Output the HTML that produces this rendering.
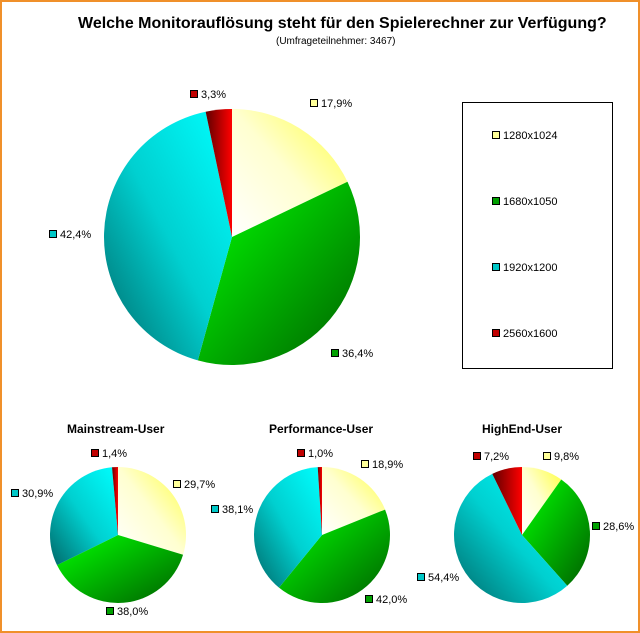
<!DOCTYPE html>
<html><head><meta charset="utf-8"><style>
body{margin:0;background:#fff;}
#c{position:relative;width:636px;height:629px;border:2px solid #f0902a;background:#fff;overflow:hidden;font-family:"Liberation Sans",sans-serif;}
.t{position:absolute;white-space:nowrap;color:#000;}
.l{position:absolute;font-size:11px;white-space:nowrap;}
.l i{display:inline-block;width:6px;height:6px;border:1px solid #000;margin-right:3px;vertical-align:0px;}
</style></head><body><div id="c">
<svg id="s" width="636" height="629" style="position:absolute;left:0;top:0"></svg>
<div class="t" style="left:76px;top:13px;font-size:16px;font-weight:bold;">Welche Monitorauflösung steht für den Spielerechner zur Verfügung?</div>
<div class="t" style="left:274px;top:34px;font-size:10px;">(Umfrageteilnehmer: 3467)</div>
<div style="position:absolute;left:460px;top:100px;width:149px;height:265px;border:1px solid #000"></div>
<div class="l" style="left:490px;top:128px"><i style="background:#ffff99"></i>1280x1024</div>
<div class="l" style="left:490px;top:194px"><i style="background:#00a000"></i>1680x1050</div>
<div class="l" style="left:490px;top:260px"><i style="background:#00c8c8"></i>1920x1200</div>
<div class="l" style="left:490px;top:326px"><i style="background:#c00000"></i>2560x1600</div>
<div class="l" style="left:188px;top:87px"><i style="background:#c00000"></i>3,3%</div>
<div class="l" style="left:308px;top:96px"><i style="background:#ffff99"></i>17,9%</div>
<div class="l" style="left:47px;top:227px"><i style="background:#00c8c8"></i>42,4%</div>
<div class="l" style="left:329px;top:346px"><i style="background:#00a000"></i>36,4%</div>
<div class="t" style="left:65px;top:420px;font-size:12px;font-weight:bold;">Mainstream-User</div>
<div class="t" style="left:267px;top:420px;font-size:12px;font-weight:bold;">Performance-User</div>
<div class="t" style="left:480px;top:420px;font-size:12px;font-weight:bold;">HighEnd-User</div>
<div class="l" style="left:89px;top:446px"><i style="background:#c00000"></i>1,4%</div>
<div class="l" style="left:171px;top:477px"><i style="background:#ffff99"></i>29,7%</div>
<div class="l" style="left:9px;top:486px"><i style="background:#00c8c8"></i>30,9%</div>
<div class="l" style="left:104px;top:604px"><i style="background:#00a000"></i>38,0%</div>
<div class="l" style="left:295px;top:446px"><i style="background:#c00000"></i>1,0%</div>
<div class="l" style="left:359px;top:457px"><i style="background:#ffff99"></i>18,9%</div>
<div class="l" style="left:209px;top:502px"><i style="background:#00c8c8"></i>38,1%</div>
<div class="l" style="left:363px;top:592px"><i style="background:#00a000"></i>42,0%</div>
<div class="l" style="left:471px;top:449px"><i style="background:#c00000"></i>7,2%</div>
<div class="l" style="left:541px;top:449px"><i style="background:#ffff99"></i>9,8%</div>
<div class="l" style="left:590px;top:519px"><i style="background:#00a000"></i>28,6%</div>
<div class="l" style="left:415px;top:570px"><i style="background:#00c8c8"></i>54,4%</div>
</div>
<script>
var s=document.getElementById('s'),NS='http://www.w3.org/2000/svg';
s.innerHTML='<defs>'+
'<linearGradient id="gy" x1="0" y1="1" x2="1" y2="0"><stop offset="0" stop-color="#ffffff"/><stop offset="0.5" stop-color="#ffffd0"/><stop offset="1" stop-color="#ffff40"/></linearGradient>'+
'<linearGradient id="gg" x1="0" y1="0" x2="1" y2="1"><stop offset="0" stop-color="#00ff00"/><stop offset="1" stop-color="#006000"/></linearGradient>'+
'<linearGradient id="gc" x1="1" y1="0" x2="0" y2="1"><stop offset="0" stop-color="#00ffff"/><stop offset="0.5" stop-color="#00d0d0"/><stop offset="1" stop-color="#006868"/></linearGradient>'+
'<linearGradient id="gr" x1="0" y1="0" x2="1" y2="0"><stop offset="0" stop-color="#600000"/><stop offset="1" stop-color="#ff0000"/></linearGradient>'+
'</defs>';
function pie(cx,cy,r,vals){var a=0,h='',ids=['gy','gg','gc','gr'];
for(var i=0;i<4;i++){var b=a+vals[i]/100*2*Math.PI;
var x1=cx+r*Math.sin(a),y1=cy-r*Math.cos(a),x2=cx+r*Math.sin(b),y2=cy-r*Math.cos(b);
h+='<path d="M'+cx+','+cy+' L'+x1+','+y1+' A'+r+','+r+' 0 '+((b-a)>Math.PI?1:0)+' 1 '+x2+','+y2+' Z" fill="url(#'+ids[i]+')"/>';a=b;}
s.innerHTML+=h;}
pie(230,235,128,[17.9,36.4,42.4,3.3]);
pie(116,533,68,[29.7,38.0,30.9,1.4]);
pie(320,533,68,[18.9,42.0,38.1,1.0]);
pie(520,533,68,[9.8,28.6,54.4,7.2]);
</script>
</body></html>
